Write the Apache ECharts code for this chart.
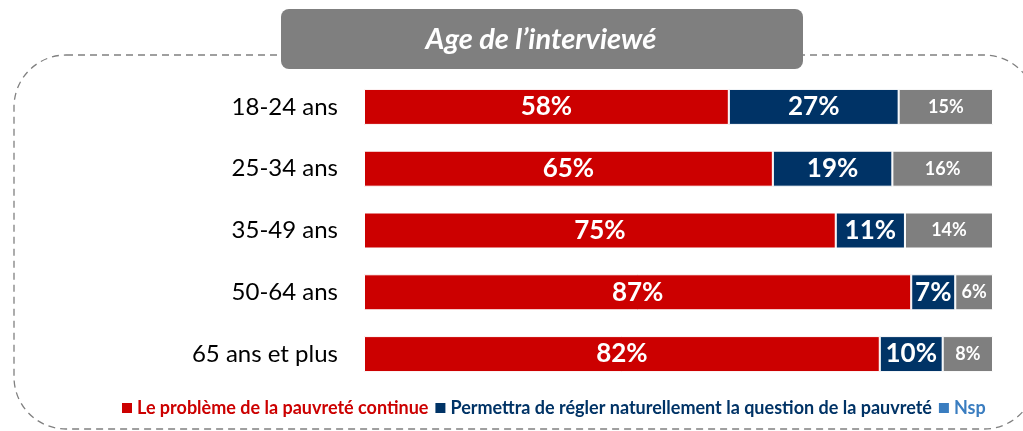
<!DOCTYPE html>
<html>
<head>
<meta charset="utf-8">
<script src="https://cdn.jsdelivr.net/npm/echarts@6/dist/echarts.min.js"></script>
<style>
html, body { margin: 0; padding: 0; background: #fff; }
#main { width: 1023px; height: 431px; }
</style>
</head>
<body>
<div id="main"></div>
<script>
var dom = document.getElementById("main");
var myChart = echarts.init(dom);

var categories = ["18-24 ans", "25-34 ans", "35-49 ans", "50-64 ans", "65 ans et plus"];
var continueValues = [58, 65, 75, 87, 82];
var reglerValues = [27, 19, 11, 7, 10];
var nspValues = [15, 16, 14, 6, 8];
var seriesNames = [
    "Le problème de la pauvreté continue",
    "Permettra de régler naturellement la question de la pauvreté",
    "Nsp"
];

var redColor = "#cc0000";
var navyColor = "#003366";
var greyColor = "#7f7f7f";
var nspLegendColor = "#3a7dc0";
var fontName = "Lato";

function barSeries(name, data, color, labelSize) {
    return {
        name: name,
        type: "bar",
        stack: "total",
        data: data,
        barWidth: 36,
        itemStyle: {
            color: color,
            borderColor: "#fff",
            borderWidth: 1
        },
        label: {
            show: true,
            position: "inside",
            formatter: "{c}%",
            color: "#fff",
            fontFamily: fontName,
            fontWeight: "bold",
            fontSize: labelSize
        }
    };
}

var option = {
    backgroundColor: "#fff",
    animation: false,
    graphic: [
        {
            type: "rect",
            shape: { x: 14, y: 55, width: 1022, height: 374, r: 52 },
            style: { fill: "none", stroke: "#808080", lineWidth: 1.3, lineDash: [7, 5] },
            z: 0
        },
        {
            type: "rect",
            shape: { x: 281, y: 9, width: 522, height: 60, r: 8 },
            style: { fill: "#7f7f7f" },
            z: 10
        },
        {
            type: "text",
            x: 541,
            y: 40,
            style: {
                text: "Age de l\u2019interviewé",
                fill: "#fff",
                font: "italic bold 29px Lato",
                align: "center",
                verticalAlign: "middle"
            },
            z: 11
        }
    ],
    legend: {
        bottom: 9,
        left: 115,
        itemWidth: 12,
        itemHeight: 12,
        itemGap: 5,
        icon: "rect",
        data: [
            { name: seriesNames[0], itemStyle: { color: redColor }, textStyle: { color: redColor } },
            { name: seriesNames[1], itemStyle: { color: navyColor }, textStyle: { color: navyColor } },
            { name: seriesNames[2], itemStyle: { color: nspLegendColor }, textStyle: { color: nspLegendColor } }
        ],
        textStyle: {
            fontFamily: fontName,
            fontWeight: "bold",
            fontSize: 18,
            padding: [0, 0, 0, -1]
        }
    },
    grid: {
        left: 364,
        right: 30,
        top: 76,
        bottom: 46
    },
    xAxis: {
        type: "value",
        min: 0,
        max: 100,
        show: false
    },
    yAxis: {
        type: "category",
        inverse: true,
        data: categories,
        axisLine: { show: false },
        axisTick: { show: false },
        axisLabel: {
            margin: 26,
            color: "#000",
            fontFamily: fontName,
            fontSize: 24
        }
    },
    series: [
        barSeries(seriesNames[0], continueValues, redColor, 26),
        barSeries(seriesNames[1], reglerValues, navyColor, 26),
        barSeries(seriesNames[2], nspValues, greyColor, 18)
    ]
};
myChart.setOption(option);
</script>
</body>
</html>
